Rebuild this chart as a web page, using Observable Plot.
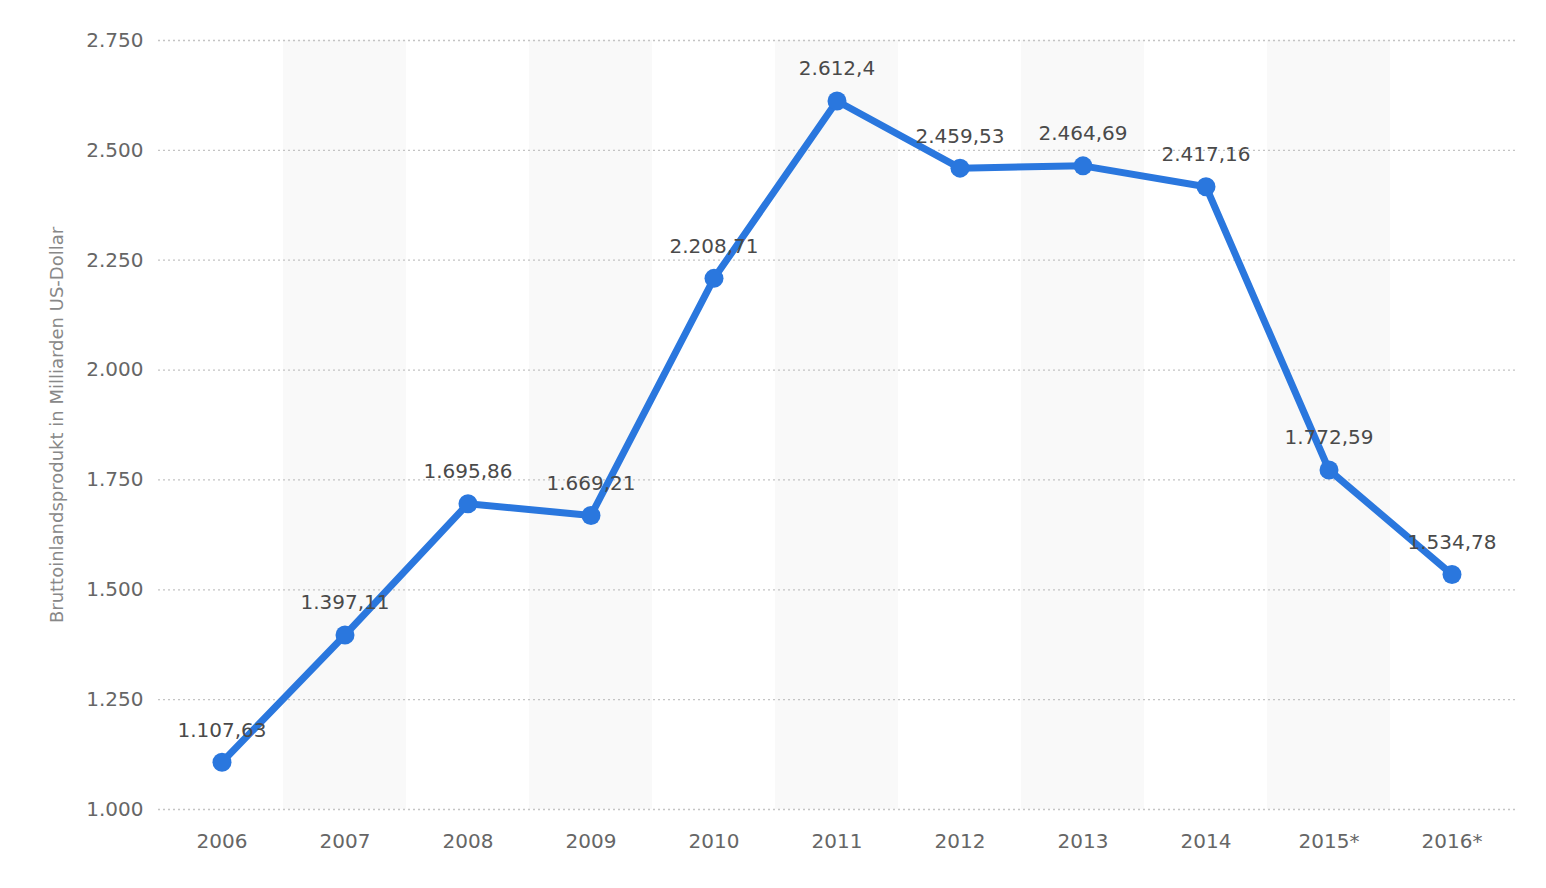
<!DOCTYPE html>
<html>
<head>
<meta charset="utf-8">
<script src="https://cdn.jsdelivr.net/npm/d3@7"></script>
<script src="https://cdn.jsdelivr.net/npm/@observablehq/plot@0.6"></script>
<style>
  html, body { margin: 0; padding: 0; background: #fff; }
  #chart svg { display: block; }
</style>
</head>
<body>
<div id="chart"></div>
<script>
const years = ["2006","2007","2008","2009","2010","2011","2012","2013","2014","2015*","2016*"];
const values = [1107.63, 1397.11, 1695.86, 1669.21, 2208.71, 2612.4, 2459.53, 2464.69, 2417.16, 1772.59, 1534.78];
const yTicks = [1000, 1250, 1500, 1750, 2000, 2250, 2500, 2750];
const shadedYears = ["2007","2009","2011","2013","2015*"];
const yLabel = "Bruttoinlandsprodukt in Milliarden US-Dollar";

function deFormat(v) {
  const s = d3.format(",.2~f")(v);
  return s.replace(/,/g, "#").replace(/\./g, ",").replace(/#/g, ".");
}

const data = years.map((y, i) => ({year: y, value: values[i], label: deFormat(values[i])}));
const bands = shadedYears.map(y => ({year: y}));

const font = "'DejaVu Sans', sans-serif";

const chart = Plot.plot({
  width: 1546,
  height: 888,
  marginLeft: 158,
  marginRight: 31,
  marginTop: 40,
  marginBottom: 79,
  style: {fontFamily: font, fontSize: "20px", color: "#666", background: "#fff"},
  x: {type: "band", domain: years, padding: 0, label: null},
  y: {domain: [1000, 2750], label: null},
  marks: [
    Plot.barY(bands, {x: "year", y1: 1000, y2: 2750, fill: "#f9f9f9", inset: 0}),
    Plot.ruleY(yTicks, {stroke: "#c4c4c4", strokeWidth: 1.3, strokeDasharray: "2,3"}),
    Plot.axisY({ticks: yTicks, tickSize: 0, tickPadding: 15, tickFormat: deFormat, fill: "#666", fontSize: 20, label: null, style: {letterSpacing: "2px"}}),
    Plot.axisX({tickSize: 0, tickPadding: 24, fill: "#666", fontSize: 20, label: null, style: {letterSpacing: "2.4px"}}),
    Plot.line(data, {x: "year", y: "value", stroke: "#2a77de", strokeWidth: 7, strokeLinejoin: "round", strokeLinecap: "round"}),
    Plot.dot(data, {x: "year", y: "value", r: 9.5, fill: "#2a77de", stroke: "none"}),
    Plot.text(data, {x: "year", y: "value", text: "label", dy: -32, fill: "#4a4a4a", fontSize: 20, style: {letterSpacing: "1.8px"}}),
    Plot.text([yLabel], {frameAnchor: "left", dx: -101, rotate: -90, textAnchor: "middle", text: d => d, fill: "#888", fontSize: 18, style: {letterSpacing: "2px"}})
  ]
});
document.getElementById("chart").appendChild(chart);
</script>
</body>
</html>
